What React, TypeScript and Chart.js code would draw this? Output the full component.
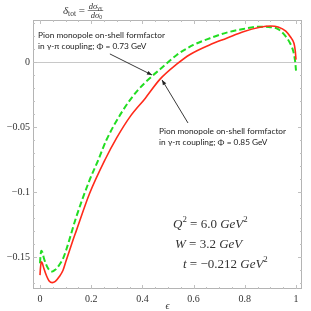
import React, { useEffect, useRef } from "react";
import { Chart, registerables } from "chart.js";

Chart.register(...registerables);

// ε values and δ_tot values
const epsRed = [0, 0.002, 0.005, 0.009, 0.015, 0.025, 0.035, 0.048, 0.06, 0.075, 0.09, 0.103, 0.129, 0.142, 0.194, 0.254, 0.3, 0.352, 0.41, 0.469, 0.534, 0.586, 0.664, 0.729, 0.794, 0.859, 0.9, 0.93, 0.96, 0.98, 0.992, 0.997, 1.0];
const deltaRed = [-0.1637, -0.158, -0.1534, -0.1545, -0.1585, -0.164, -0.168, -0.1695, -0.1685, -0.165, -0.16, -0.152, -0.1367, -0.1295, -0.1008, -0.075, -0.058, -0.0418, -0.028, -0.013, -0.0015, 0.006, 0.0135, 0.0185, 0.0235, 0.0269, 0.0279, 0.0272, 0.024, 0.019, 0.0146, 0.009, 0.002];

const epsGreen = [0, 0.002, 0.005, 0.009, 0.015, 0.025, 0.035, 0.048, 0.06, 0.075, 0.09, 0.103, 0.142, 0.194, 0.228, 0.259, 0.325, 0.38, 0.436, 0.469, 0.534, 0.599, 0.664, 0.729, 0.794, 0.859, 0.9, 0.93, 0.955, 0.977, 0.99, 0.997, 1.0];
const deltaGreen = [-0.1546, -0.149, -0.145, -0.146, -0.1505, -0.156, -0.1595, -0.161, -0.1595, -0.156, -0.151, -0.144, -0.1188, -0.0905, -0.075, -0.06, -0.0367, -0.022, -0.011, -0.0054, 0.0056, 0.0133, 0.0185, 0.0228, 0.0256, 0.0274, 0.027, 0.0255, 0.021, 0.0146, 0.008, 0.0, -0.0065];

const xTicks = [0, 0.2, 0.4, 0.6, 0.8, 1];
const yTicks = [0, -0.05, -0.1, -0.15];

const annotationLine1 = "Pion monopole on-shell formfactor";
const annotationGreen = "in γ-π coupling; Φ = 0.73 GeV";
const annotationRed = "in γ-π coupling; Φ = 0.85 GeV";

const X_MIN = -0.0273;
const X_MAX = 1.0234;
const Y_MIN = -0.1744;
const Y_MAX = 0.0325;

const SERIF = '"Liberation Serif", "Times New Roman", serif';
const SANS = 'Lato, "Open Sans", sans-serif';

type Run = { t: string; it?: boolean; sup?: boolean; sub?: boolean };

function drawRuns(ctx: CanvasRenderingContext2D, runs: Run[], x: number, y: number, size: number) {
  let cx = x;
  for (const r of runs) {
    const s = r.sub || r.sup ? size * 0.68 : size;
    ctx.font = `${r.it ? "italic " : ""}${s}px ${SERIF}`;
    const dy = r.sup ? -size * 0.42 : r.sub ? size * 0.22 : 0;
    ctx.fillText(r.t, cx, y + dy);
    cx += ctx.measureText(r.t).width;
  }
  return cx;
}

function arrow(ctx: CanvasRenderingContext2D, x1: number, y1: number, x2: number, y2: number) {
  ctx.beginPath();
  ctx.moveTo(x1, y1);
  ctx.lineTo(x2, y2);
  ctx.stroke();
  const a = Math.atan2(y2 - y1, x2 - x1);
  const L = 5, W = 2;
  ctx.beginPath();
  ctx.moveTo(x2, y2);
  ctx.lineTo(x2 - L * Math.cos(a) + W * Math.sin(a), y2 - L * Math.sin(a) - W * Math.cos(a));
  ctx.lineTo(x2 - L * Math.cos(a) - W * Math.sin(a), y2 - L * Math.sin(a) + W * Math.cos(a));
  ctx.closePath();
  ctx.fill();
}

const framePlugin = {
  id: "frame",
  beforeDatasetsDraw(chart: any) {
    const { ctx, chartArea: a, scales } = chart;
    const xs = scales.x, ys = scales.y;
    ctx.save();
    // zero line
    ctx.strokeStyle = "#c8c8c8";
    ctx.lineWidth = 1;
    const y0 = Math.round(ys.getPixelForValue(0)) + 0.5;
    ctx.beginPath();
    ctx.moveTo(a.left, y0);
    ctx.lineTo(a.right, y0);
    ctx.stroke();
    // frame
    ctx.strokeStyle = "#b4b4b4";
    ctx.strokeRect(Math.round(a.left) + 0.5, Math.round(a.top) + 0.5, Math.round(a.right - a.left) - 1, Math.round(a.bottom - a.top) - 1);
    // ticks
    ctx.strokeStyle = "#c0c0c0";
    ctx.beginPath();
    for (let i = -1; i <= 21; i++) {
      const v = i * 0.05;
      if (v < X_MIN || v > X_MAX) continue;
      const major = i % 4 === 0;
      const len = major ? 4 : 2;
      const px = Math.round(xs.getPixelForValue(v)) + 0.5;
      ctx.moveTo(px, a.bottom);
      ctx.lineTo(px, a.bottom - len);
      ctx.moveTo(px, a.top);
      ctx.lineTo(px, a.top + len);
    }
    for (let i = -18; i <= 4; i++) {
      const v = i * 0.01;
      if (v < Y_MIN || v > Y_MAX) continue;
      const major = i % 5 === 0;
      const len = major ? 4 : 2;
      const py = Math.round(ys.getPixelForValue(v)) + 0.5;
      ctx.moveTo(a.left, py);
      ctx.lineTo(a.left + len, py);
      ctx.moveTo(a.right, py);
      ctx.lineTo(a.right - len, py);
    }
    ctx.stroke();
    ctx.restore();
  },
  afterDraw(chart: any) {
    const { ctx, chartArea: a, scales } = chart;
    const xs = scales.x, ys = scales.y;
    const P = (e: number, v: number) => [xs.getPixelForValue(e), ys.getPixelForValue(v)];
    ctx.save();
    ctx.fillStyle = "#222";
    ctx.strokeStyle = "#222";
    ctx.lineWidth = 0.9;
    ctx.textBaseline = "middle";
    ctx.textAlign = "left";
    ctx.font = `8.3px ${SANS}`;
    // green annotation
    let [tx, ty] = P(-0.0078, 0.021);
    ctx.fillText(annotationLine1, tx, ty);
    ctx.fillText(annotationGreen, tx, ty + 11);
    let [ax1, ay1] = P(0.273, 0.0064);
    let [ax2, ay2] = P(0.4375, -0.0098);
    arrow(ctx, ax1, ay1, ax2, ay2);
    // red annotation
    [tx, ty] = P(0.465, -0.0534);
    ctx.fillText(annotationLine1, tx, ty);
    ctx.fillText(annotationRed, tx, ty + 11);
    [ax1, ay1] = P(0.578, -0.0467);
    [ax2, ay2] = P(0.4766, -0.0136);
    arrow(ctx, ax1, ay1, ax2, ay2);

    // parameters
    ctx.textBaseline = "alphabetic";
    ctx.fillStyle = "#333";
    drawRuns(ctx, [{ t: "Q", it: true }, { t: "2", sup: true }, { t: " = 6.0 " }, { t: "GeV", it: true }, { t: "2", sup: true }], 173, 227.5, 13);
    drawRuns(ctx, [{ t: "W", it: true }, { t: " = 3.2 " }, { t: "GeV", it: true }], 175, 247.5, 13);
    drawRuns(ctx, [{ t: "t", it: true }, { t: " = −0.212 " }, { t: "GeV", it: true }, { t: "2", sup: true }], 183, 267.5, 13);

    // title
    ctx.fillStyle = "#333";
    let cx = drawRuns(ctx, [{ t: "δ", it: true }, { t: "tot", sub: true }], 63, 13.5, 11);
    ctx.font = `11px ${SERIF}`;
    ctx.fillText(" = ", cx, 13.5);
    cx += ctx.measureText(" = ").width;
    const numW = (() => {
      const c = drawRuns(ctx, [{ t: "dσ", it: true }, { t: "γγ", sub: true }], cx + 1, 8.5, 8.5);
      return c - cx;
    })();
    drawRuns(ctx, [{ t: "dσ", it: true }, { t: "0", sub: true }], cx + 3, 17.5, 8.5);
    ctx.strokeStyle = "#333";
    ctx.lineWidth = 0.6;
    ctx.beginPath();
    ctx.moveTo(cx, 10.5);
    ctx.lineTo(cx + numW + 1, 10.5);
    ctx.stroke();

    // axis label
    ctx.font = `italic 10px ${SERIF}`;
    ctx.textAlign = "center";
    ctx.textBaseline = "middle";
    ctx.fillText("ϵ", (a.left + a.right) / 2, 306.5);
    ctx.restore();
  },
};

export default function App() {
  const ref = useRef<HTMLCanvasElement>(null);
  useEffect(() => {
    if (!ref.current) return;
    const chart = new Chart(ref.current, {
      type: "line",
      data: {
        datasets: [
          {
            label: "Φ = 0.85 GeV",
            data: epsRed.map((e, i) => ({ x: e, y: deltaRed[i] })),
            borderColor: "#ff2a1a",
            borderWidth: 1.6,
            pointRadius: 0,
            cubicInterpolationMode: "monotone",
            fill: false,
          },
          {
            label: "Φ = 0.73 GeV",
            data: epsGreen.map((e, i) => ({ x: e, y: deltaGreen[i] })),
            borderColor: "#22dd22",
            borderWidth: 2,
            borderDash: [6, 3],
            pointRadius: 0,
            cubicInterpolationMode: "monotone",
            fill: false,
          },
        ],
      },
      options: {
        responsive: false,
        animation: false,
        layout: { padding: { left: 0, top: 20, right: 9, bottom: 0 } },
        plugins: { legend: { display: false }, tooltip: { enabled: false } },
        scales: {
          x: {
            type: "linear",
            min: X_MIN,
            max: X_MAX,
            grid: { display: false, drawTicks: false },
            border: { display: false },
            afterBuildTicks: (s: any) => { s.ticks = xTicks.map((v) => ({ value: v })); },
            afterFit: (s: any) => { s.height = 22; },
            ticks: {
              padding: 4,
              maxRotation: 0,
              color: "#333",
              font: { family: SERIF, size: 10 },
              callback: (v: any) => String(v),
            },
          },
          y: {
            type: "linear",
            min: Y_MIN,
            max: Y_MAX,
            grid: { display: false, drawTicks: false },
            border: { display: false },
            afterBuildTicks: (s: any) => { s.ticks = yTicks.map((v) => ({ value: v })); },
            afterFit: (s: any) => { s.width = 33; },
            ticks: {
              padding: 3,
              color: "#333",
              font: { family: SERIF, size: 10 },
              callback: (v: any) => (v < 0 ? "−" + String(Math.abs(v)) : String(v)),
            },
          },
        },
      },
      plugins: [framePlugin],
    });
    return () => chart.destroy();
  }, []);
  return (
    <div style={{ position: "absolute", left: 0, top: 0, width: 311, height: 311, background: "#fff" }}>
      <canvas ref={ref} width={311} height={311} />
    </div>
  );
}
